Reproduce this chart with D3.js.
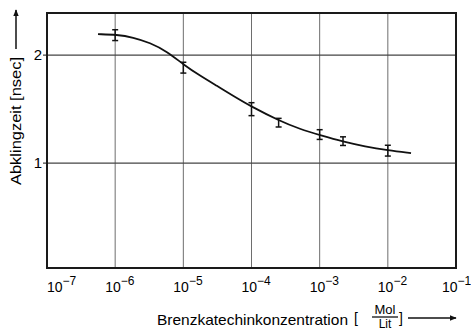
<html lang="de">

<head>
  <meta http-equiv="Content-Type" content="text/html; charset=UTF-8">
  <title>Abklingzeit</title>
  <script type="text/javascript" src="https://cdn.jsdelivr.net/npm/d3@7"></script>
  <style type="text/css">
    body { margin: 0; background: #fff; }
    text { font-family: "Liberation Sans", Arial, sans-serif; fill: #000; }
  </style>
</head>

<body>
  <script type="text/javascript">
    // measured points with error bars
    var conc = [1e-6, 1e-5, 1e-4, 2.5e-4, 1e-3, 2.2e-3, 1e-2];
    var tau = [2.185, 1.884, 1.50, 1.375, 1.265, 1.204, 1.116];
    var tauErr = [0.05, 0.05, 0.06, 0.04, 0.045, 0.04, 0.05];

    // fitted curve
    var curveConc = [5.6e-7, 1.06e-6, 1.83e-6, 3.24e-6, 5.75e-6, 1.02e-5, 1.75e-5, 3.12e-5,
      5.35e-5, 1.02e-4, 2.53e-4, 5.14e-4, 1.04e-3, 2.2e-3, 4.62e-3, 1.0e-2, 2.19e-2];
    var curveTau = [2.194, 2.19, 2.165, 2.115, 2.035, 1.91, 1.81, 1.715,
      1.625, 1.52, 1.395, 1.315, 1.258, 1.2, 1.155, 1.12, 1.093];

    var xTicks = [1e-7, 1e-6, 1e-5, 1e-4, 1e-3, 1e-2, 1e-1];
    var xTickExp = ["\u22127", "\u22126", "\u22125", "\u22124", "\u22123", "\u22122", "\u22121"];
    var yTicks = [1, 2];

    var width = 471, height = 330;
    var margin = {top: 13, right: 15, bottom: 62, left: 47};

    var svg = d3.select("body").append("svg").attr("width", width).attr("height", height);

    var x = d3.scaleLog().domain([1e-7, 1e-1]).range([margin.left, width - margin.right]);
    var y = d3.scaleLinear().domain([0.03, 2.39]).range([height - margin.bottom, margin.top]);

    // grid
    svg.append("g").selectAll("line").data(xTicks.slice(1, -1)).enter().append("line")
      .attr("x1", function(d) { return x(d); })
      .attr("x2", function(d) { return x(d); })
      .attr("y1", y.range()[0])
      .attr("y2", y.range()[1])
      .attr("stroke", "#6e6e6e")
      .attr("stroke-width", 1);

    svg.append("g").selectAll("line").data(yTicks).enter().append("line")
      .attr("x1", margin.left - 4)
      .attr("x2", width - margin.right)
      .attr("y1", function(d) { return y(d); })
      .attr("y2", function(d) { return y(d); })
      .attr("stroke", "#444")
      .attr("stroke-width", 1.2);

    // frame
    svg.append("rect")
      .attr("x", x.range()[0])
      .attr("y", y.range()[1])
      .attr("width", x.range()[1] - x.range()[0])
      .attr("height", y.range()[0] - y.range()[1])
      .attr("fill", "none")
      .attr("stroke", "#1a1a1a")
      .attr("stroke-width", 2);

    // y tick labels
    svg.append("g").selectAll("text").data(yTicks).enter().append("text")
      .attr("x", margin.left - 5)
      .attr("y", function(d) { return y(d) + 5; })
      .attr("text-anchor", "end")
      .style("font-size", "15px")
      .text(function(d) { return d; });

    // x tick labels 10^n
    var xl = svg.append("g").selectAll("text").data(xTicks).enter().append("text")
      .attr("x", function(d, i) {
        if (i === 0) return x(d);
        if (i === xTicks.length - 1) return x(d) - 14;
        return x(d) - 10;
      })
      .attr("y", height - margin.bottom + 24)
      .style("font-size", "14px");
    xl.append("tspan").text("10");
    xl.append("tspan")
      .attr("dy", -7)
      .style("font-size", "12px")
      .text(function(d, i) { return xTickExp[i]; });

    // fitted curve
    var line = d3.line()
      .x(function(d, i) { return x(curveConc[i]); })
      .y(function(d) { return y(d); })
      .curve(d3.curveBasis);
    svg.append("path")
      .attr("d", line(curveTau))
      .attr("fill", "none")
      .attr("stroke", "#111")
      .attr("stroke-width", 1.8);

    // error bars
    var eb = svg.append("g").attr("stroke", "#111").attr("stroke-width", 1.5)
      .selectAll("g").data(tau).enter().append("g");
    eb.append("line")
      .attr("x1", function(d, i) { return x(conc[i]); })
      .attr("x2", function(d, i) { return x(conc[i]); })
      .attr("y1", function(d, i) { return y(d - tauErr[i]); })
      .attr("y2", function(d, i) { return y(d + tauErr[i]); });
    eb.append("line")
      .attr("x1", function(d, i) { return x(conc[i]) - 3; })
      .attr("x2", function(d, i) { return x(conc[i]) + 3; })
      .attr("y1", function(d, i) { return y(d - tauErr[i]); })
      .attr("y2", function(d, i) { return y(d - tauErr[i]); });
    eb.append("line")
      .attr("x1", function(d, i) { return x(conc[i]) - 3; })
      .attr("x2", function(d, i) { return x(conc[i]) + 3; })
      .attr("y1", function(d, i) { return y(d + tauErr[i]); })
      .attr("y2", function(d, i) { return y(d + tauErr[i]); });

    // arrow marker
    svg.append("defs").append("marker")
      .attr("id", "arr")
      .attr("viewBox", "0 0 10 10")
      .attr("refX", 9).attr("refY", 5)
      .attr("markerWidth", 7).attr("markerHeight", 7)
      .attr("markerUnits", "userSpaceOnUse")
      .attr("orient", "auto")
      .append("path").attr("d", "M0,1 L10,5 L0,9 Z").attr("fill", "#111");

    // y title
    svg.append("text")
      .attr("transform", "translate(21,185) rotate(-90)")
      .attr("textLength", 128)
      .attr("lengthAdjust", "spacingAndGlyphs")
      .style("font-size", "14px")
      .text("Abklingzeit [nsec]");
    svg.append("line")
      .attr("x1", 16).attr("x2", 16)
      .attr("y1", 49).attr("y2", 10)
      .attr("stroke", "#111").attr("stroke-width", 1.5)
      .attr("marker-end", "url(#arr)");

    // x title
    svg.append("text")
      .attr("x", 157).attr("y", 325)
      .attr("textLength", 191)
      .attr("lengthAdjust", "spacingAndGlyphs")
      .style("font-size", "15px")
      .text("Brenzkatechinkonzentration");
    svg.append("text").attr("x", 354).attr("y", 323).style("font-size", "14px").text("[");
    svg.append("text").attr("x", 385).attr("y", 314).attr("text-anchor", "middle")
      .style("font-size", "13px").text("Mol");
    svg.append("line")
      .attr("x1", 372).attr("x2", 398).attr("y1", 317).attr("y2", 317)
      .attr("stroke", "#111").attr("stroke-width", 1.3);
    svg.append("text").attr("x", 385).attr("y", 328).attr("text-anchor", "middle")
      .style("font-size", "12px").text("Lit");
    svg.append("text").attr("x", 399).attr("y", 323).style("font-size", "14px").text("]");
    svg.append("line")
      .attr("x1", 408).attr("x2", 456).attr("y1", 318).attr("y2", 318)
      .attr("stroke", "#111").attr("stroke-width", 1.5)
      .attr("marker-end", "url(#arr)");
  </script>
</body>

</html>
